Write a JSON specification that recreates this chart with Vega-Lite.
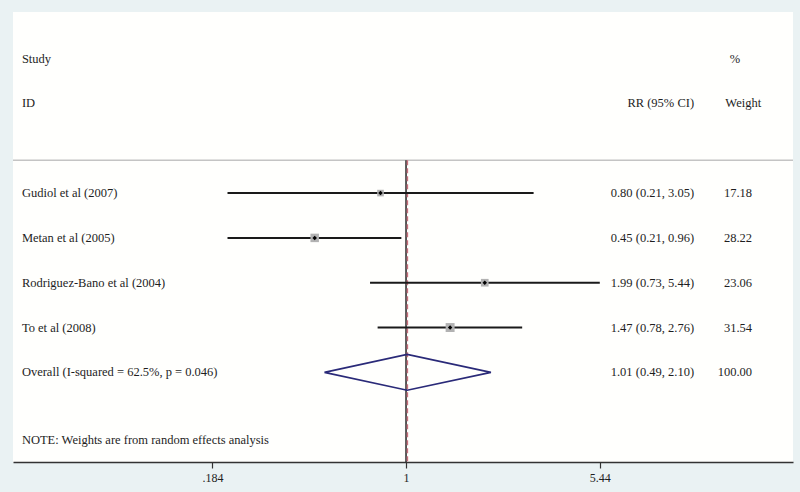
{
  "$schema": "https://vega.github.io/schema/vega-lite/v6.json",
  "width": 780,
  "height": 450,
  "autosize": {"type": "none"},
  "padding": {"left": 13, "top": 12, "right": 7, "bottom": 30},
  "background": "#eaf2f3",
  "config": {
    "view": {"stroke": null, "fill": "#fffffd"},
    "font": "Liberation Serif",
    "text": {"font": "Liberation Serif", "fontSize": 12.5, "color": "#1e1e1e", "baseline": "middle"}
  },
  "datasets": {
    "studies": [
      {"study": "Gudiol et al (2007)", "row": 3, "rr": 0.80, "lo": 0.21, "hi": 3.05, "weight": 17.18, "ci": "0.80 (0.21, 3.05)", "wt": "17.18"},
      {"study": "Metan et al (2005)", "row": 4, "rr": 0.45, "lo": 0.21, "hi": 0.96, "weight": 28.22, "ci": "0.45 (0.21, 0.96)", "wt": "28.22"},
      {"study": "Rodriguez-Bano et al (2004)", "row": 5, "rr": 1.99, "lo": 0.73, "hi": 5.44, "weight": 23.06, "ci": "1.99 (0.73, 5.44)", "wt": "23.06"},
      {"study": "To et al (2008)", "row": 6, "rr": 1.47, "lo": 0.78, "hi": 2.76, "weight": 31.54, "ci": "1.47 (0.78, 2.76)", "wt": "31.54"}
    ],
    "leftText": [
      {"label": "Study", "row": 0},
      {"label": "ID", "row": 1},
      {"label": "Gudiol et al (2007)", "row": 3},
      {"label": "Metan et al (2005)", "row": 4},
      {"label": "Rodriguez-Bano et al (2004)", "row": 5},
      {"label": "To et al (2008)", "row": 6},
      {"label": "Overall (I-squared = 62.5%, p = 0.046)", "row": 7},
      {"label": "NOTE: Weights are from random effects analysis", "row": 8.51}
    ],
    "ciText": [
      {"label": "RR (95% CI)", "row": 1},
      {"label": "0.80 (0.21, 3.05)", "row": 3},
      {"label": "0.45 (0.21, 0.96)", "row": 4},
      {"label": "1.99 (0.73, 5.44)", "row": 5},
      {"label": "1.47 (0.78, 2.76)", "row": 6},
      {"label": "1.01 (0.49, 2.10)", "row": 7}
    ],
    "wtText": [
      {"label": "17.18", "row": 3},
      {"label": "28.22", "row": 4},
      {"label": "23.06", "row": 5},
      {"label": "31.54", "row": 6},
      {"label": "100.00", "row": 7}
    ],
    "diamond": [
      {"rr": 0.49, "row": 7, "ord": 1},
      {"rr": 1.01, "row": 6.6, "ord": 2},
      {"rr": 2.10, "row": 7, "ord": 3},
      {"rr": 1.01, "row": 7.4, "ord": 4},
      {"rr": 0.49, "row": 7, "ord": 5}
    ]
  },
  "layer": [
    {
      "data": {"values": [{}]},
      "mark": {"type": "rule", "color": "#c4c4c4", "strokeWidth": 1.5},
      "encoding": {
        "y": {"datum": 2.27, "type": "quantitative", "scale": {"domain": [-1.04, 9], "reverse": true, "nice": false, "zero": false}, "axis": null}
      }
    },
    {
      "data": {"values": [{}]},
      "mark": {"type": "rule", "color": "#222222", "strokeWidth": 1.5},
      "encoding": {
        "x": {"datum": 1, "type": "quantitative", "scale": {"type": "log", "domain": [0.0322, 29.45], "nice": false},
          "axis": {"values": [0.184, 1, 5.44], "labelExpr": "datum.value < 0.5 ? '.184' : datum.value < 2 ? '1' : '5.44'", "title": null, "grid": false,
            "domainColor": "#333333", "domainWidth": 1.6, "tickColor": "#333333", "tickWidth": 1.2, "tickSize": 6,
            "labelFont": "Liberation Serif", "labelFontSize": 12, "labelColor": "#1e1e1e", "labelPadding": 4, "labelFlush": false, "labelOverlap": false}},
        "y": {"datum": 2.27, "type": "quantitative"},
        "y2": {"datum": 9}
      }
    },
    {
      "data": {"values": [{}]},
      "mark": {"type": "rule", "color": "#c8707c", "strokeWidth": 1.5, "strokeDash": [5, 3]},
      "encoding": {
        "x": {"datum": 1.012, "type": "quantitative"},
        "y": {"datum": 2.27, "type": "quantitative"},
        "y2": {"datum": 9}
      }
    },
    {
      "data": {"name": "studies"},
      "mark": {"type": "rule", "color": "#1a1a1a", "strokeWidth": 2},
      "encoding": {
        "x": {"field": "lo", "type": "quantitative"},
        "x2": {"field": "hi"},
        "y": {"field": "row", "type": "quantitative"}
      }
    },
    {
      "data": {"name": "studies"},
      "mark": {"type": "point", "shape": "square", "filled": true, "color": "#b2b2b2", "opacity": 1},
      "encoding": {
        "x": {"field": "rr", "type": "quantitative"},
        "y": {"field": "row", "type": "quantitative"},
        "size": {"field": "weight", "type": "quantitative", "scale": {"domain": [0, 31.54], "range": [0, 80]}, "legend": null}
      }
    },
    {
      "data": {"name": "studies"},
      "mark": {"type": "point", "shape": "diamond", "filled": true, "color": "#000000", "size": 20, "opacity": 1},
      "encoding": {
        "x": {"field": "rr", "type": "quantitative"},
        "y": {"field": "row", "type": "quantitative"}
      }
    },
    {
      "data": {"name": "diamond"},
      "mark": {"type": "line", "color": "#2a2a78", "strokeWidth": 1.6},
      "encoding": {
        "x": {"field": "rr", "type": "quantitative"},
        "y": {"field": "row", "type": "quantitative"},
        "order": {"field": "ord", "type": "quantitative"}
      }
    },
    {
      "data": {"name": "leftText"},
      "mark": {"type": "text", "align": "left"},
      "encoding": {
        "x": {"datum": 0.0348, "type": "quantitative"},
        "y": {"field": "row", "type": "quantitative"},
        "text": {"field": "label"}
      }
    },
    {
      "data": {"name": "ciText"},
      "mark": {"type": "text", "align": "right"},
      "encoding": {
        "x": {"datum": 12.4, "type": "quantitative"},
        "y": {"field": "row", "type": "quantitative"},
        "text": {"field": "label"}
      }
    },
    {
      "data": {"name": "wtText"},
      "mark": {"type": "text", "align": "right"},
      "encoding": {
        "x": {"datum": 20.6, "type": "quantitative"},
        "y": {"field": "row", "type": "quantitative"},
        "text": {"field": "label"}
      }
    },
    {
      "data": {"values": [{"label": "%", "row": 0, "col": 16.95}, {"label": "Weight", "row": 1, "col": 16.3}]},
      "mark": {"type": "text", "align": "left"},
      "encoding": {
        "x": {"field": "col", "type": "quantitative"},
        "y": {"field": "row", "type": "quantitative"},
        "text": {"field": "label"}
      }
    }
  ]
}
